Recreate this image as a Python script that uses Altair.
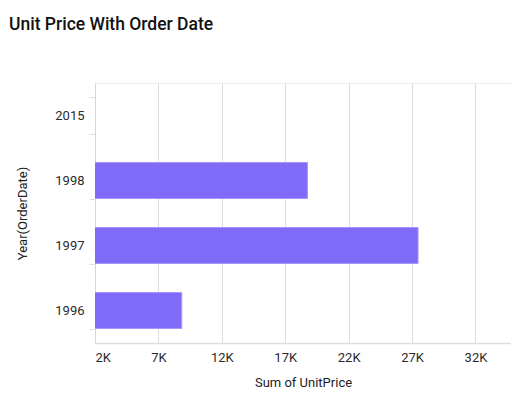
import pandas as pd
import altair as alt

# values
years = ["2015", "1998", "1997", "1996"]
bar_years = ["1998", "1997", "1996"]
unit_price = [18750, 27470, 8840]
tick_values = [2000, 7000, 12000, 17000, 22000, 27000, 32000]

df = pd.DataFrame({"year": bar_years, "price": unit_price})

bars = alt.Chart(df).mark_bar(
    color="#806AF8",
    stroke="#A597FA",
    strokeWidth=1,
    clip=True,
).encode(
    x=alt.X(
        "price:Q",
        scale=alt.Scale(domain=[2000, 34800], zero=False, nice=False),
        axis=alt.Axis(
            title="Sum of UnitPrice",
            values=tick_values,
            labelExpr="datum.value / 1000 + 'K'",
            labelFlush=True,
            ticks=False,
            labelPadding=8,
            titlePadding=12,
            gridColor="#dedede",
            domainColor="#dedede",
            domainWidth=1.5,
        ),
    ),
    y=alt.Y(
        "year:N",
        sort=years,
        scale=alt.Scale(domain=years, paddingInner=0.446, paddingOuter=0.223),
        axis=alt.Axis(
            title="Year(OrderDate)",
            grid=False,
            tickBand="extent",
            tickSize=6,
            tickColor="#dedede",
            domainColor="#d6d6d6",
            labelPadding=5,
            titlePadding=25,
        ),
    ),
)

chart = bars.properties(
    width=416,
    height=260,
    autosize="none",
    padding={"left": 87, "top": 75, "right": 0, "bottom": 58},
    title=alt.TitleParams(
        "Unit Price With Order Date",
        anchor="start",
        frame="group",
        baseline="top",
        offset=0,
        dx=-86,
        dy=-44,
        fontSize=17.5,
        fontWeight=500,
        color="#111111",
    ),
).configure(
    font="Roboto",
).configure_view(
    stroke="#ececec",
).configure_axis(
    labelFont="Roboto",
    labelFontSize=13,
    labelColor="#2b2b2b",
    titleFont="Roboto",
    titleFontSize=13,
    titleFontWeight="normal",
    titleColor="#222222",
)

chart.save("out.html", embed_options={"renderer": "svg", "actions": False})
